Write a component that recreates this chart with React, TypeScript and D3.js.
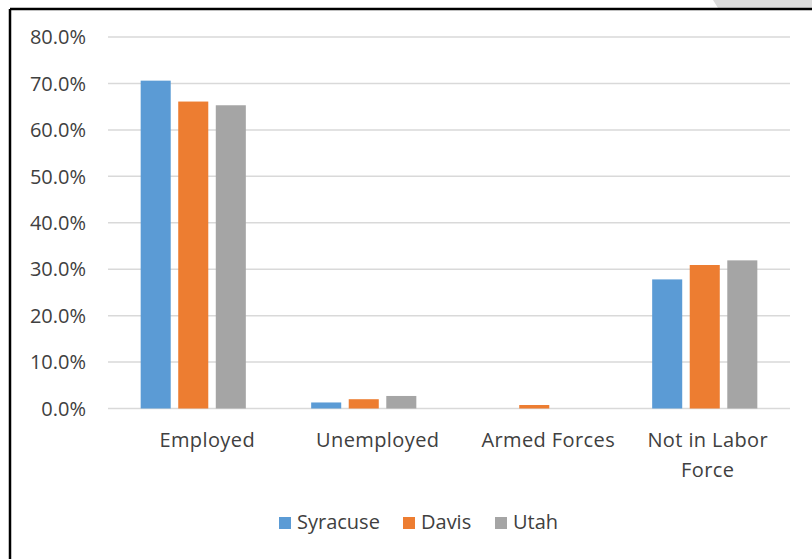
import React from "react";
import * as d3 from "d3";

// Labor force status shares by area
const categories = ["Employed", "Unemployed", "Armed Forces", "Not in Labor Force"];
const seriesNames = ["Syracuse", "Davis", "Utah"];
const syracuse = [0.706, 0.013, 0.0, 0.278];
const davis = [0.661, 0.02, 0.0075, 0.309];
const utah = [0.653, 0.027, 0.0, 0.319];
const yTicks = [0, 0.1, 0.2, 0.3, 0.4, 0.5, 0.6, 0.7, 0.8];
const colors = ["#5b9bd5", "#ed7d31", "#a5a5a5"];

const seriesValues = [syracuse, davis, utah];

const W = 812;
const H = 559;
const plot = { left: 108, right: 790, top: 37, bottom: 408.5 };
const font = "'Open Sans', 'Liberation Sans', sans-serif";
const textColor = "#404040";

// category label lines (wrapped where Excel wraps them)
const labelLines: Record<string, string[]> = {
  "Not in Labor Force": ["Not in Labor", "Force"],
};

export default function App() {
  const x = d3.scaleBand<string>().domain(categories).range([plot.left, plot.right]).padding(0);
  const xInner = d3
    .scaleBand<string>()
    .domain(seriesNames)
    .range([0, x.bandwidth()])
    .paddingInner(0.2)
    .paddingOuter(0.87);
  const y = d3.scaleLinear().domain([0, 0.8]).range([plot.bottom, plot.top]);
  const fmt = d3.format(".1%");

  const legendItems = [
    { name: seriesNames[0], x: 279 },
    { name: seriesNames[1], x: 403 },
    { name: seriesNames[2], x: 495 },
  ];

  return (
    <svg
      width={W}
      height={H}
      style={{ position: "absolute", left: 0, top: 0, background: "#fff" }}
    >
      {/* frame */}
      <polygon points="713,0 812,0 812,8 718,8" fill="#dcdcdc" />
      <line x1={10} y1={9} x2={812} y2={9} stroke="#000" strokeWidth={2.5} />
      <line x1={10} y1={9} x2={10} y2={559} stroke="#000" strokeWidth={2.5} />

      {/* gridlines */}
      {yTicks.map((t) => (
        <line
          key={t}
          x1={plot.left}
          x2={plot.right}
          y1={y(t)}
          y2={y(t)}
          stroke="#d9d9d9"
          strokeWidth={1.5}
        />
      ))}

      {/* y tick labels */}
      {yTicks.map((t) => (
        <text
          key={"l" + t}
          x={86}
          y={y(t)}
          dy="0.36em"
          textAnchor="end"
          fontFamily={font}
          fontSize={20}
          fill={textColor}
        >
          {fmt(t)}
        </text>
      ))}

      {/* bars */}
      {seriesValues.map((vals, si) =>
        vals.map((v, ci) => (
          <rect
            key={si + "-" + ci}
            x={(x(categories[ci]) as number) + (xInner(seriesNames[si]) as number)}
            y={y(v)}
            width={xInner.bandwidth()}
            height={y(0) - y(v)}
            fill={colors[si]}
          />
        ))
      )}

      {/* category labels */}
      {categories.map((c) => {
        const lines = labelLines[c] || [c];
        const cx = (x(c) as number) + x.bandwidth() / 2 + (lines.length > 1 ? 3 : 14);
        return (
          <text
            key={c}
            x={cx}
            y={447}
            textAnchor="middle"
            fontFamily={font}
            fontSize={20}
            letterSpacing={0.4}
            fill={textColor}
          >
            {lines.map((ln, i) => (
              <tspan key={i} x={cx} dy={i === 0 ? 0 : 30}>
                {ln}
              </tspan>
            ))}
          </text>
        );
      })}

      {/* legend */}
      {legendItems.map((it, i) => (
        <g key={it.name}>
          <rect x={it.x} y={517} width={12} height={12} fill={colors[i]} />
          <text
            x={it.x + 18}
            y={529}
            fontFamily={font}
            fontSize={20}
            fill={textColor}
          >
            {it.name}
          </text>
        </g>
      ))}
    </svg>
  );
}
